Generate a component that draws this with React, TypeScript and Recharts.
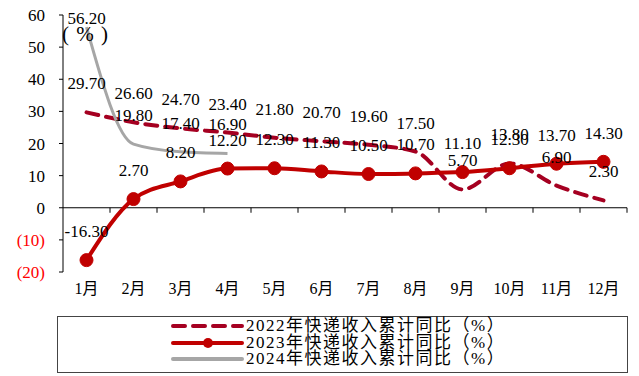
import { LineChart, Line, XAxis, YAxis, ReferenceLine, LabelList } from 'recharts';

const MONTHS = ['1月', '2月', '3月', '4月', '5月', '6月', '7月', '8月', '9月', '10月', '11月', '12月'];
const REV_2022 = [29.7, 26.6, 24.7, 23.4, 21.8, 20.7, 19.6, 17.5, 5.7, 13.8, 6.9, 2.3];
const REV_2023 = [-16.3, 2.7, 8.2, 12.2, 12.3, 11.3, 10.5, 10.7, 11.1, 12.3, 13.7, 14.3];
const REV_2024 = [56.2, 19.8, 17.4, 16.9];
const Y_TICKS = [-20, -10, 0, 10, 20, 30, 40, 50, 60];
const SERIES_NAMES = ['2022年快递收入累计同比（%）', '2023年快递收入累计同比（%）', '2024年快递收入累计同比（%）'];

const C2022 = '#A50021';
const C2023 = '#C00000';
const C2024 = '#A6A6A6';
const SERIF = "'Liberation Serif', 'Times New Roman', 'Noto Sans CJK SC', serif";

const data = MONTHS.map((month, i) => ({
    month,
    y2022: REV_2022[i],
    y2023: REV_2023[i],
    y2024: i < REV_2024.length ? REV_2024[i] : null,
}));

function ValueLabel(props: any) {
    const { value } = props;
    if (value == null) return null;
    const vb = props.viewBox || {};
    const x = (vb.x ?? props.x) + (vb.width || 0) / 2;
    const y = Math.max((vb.y ?? props.y) - 23, 24);
    return (
        <text x={x} y={y} textAnchor="middle" fontSize={17} fontFamily={SERIF} fill="#000">
            {Number(value).toFixed(2)}
        </text>
    );
}

// zero line with tick marks between categories
function ZeroAxis(props: any) {
    const { x1, x2, y1 } = props;
    const step = (x2 - x1) / MONTHS.length;
    return (
        <g>
            <line x1={x1} y1={y1} x2={x2} y2={y1} stroke="#000" strokeWidth={1} />
            {MONTHS.map((_, i) => (
                <line key={i} x1={x1 + step * (i + 1)} x2={x1 + step * (i + 1)} y1={y1} y2={y1 + 5} stroke="#000" />
            ))}
        </g>
    );
}

function YTick(props: any) {
    const { x, y, payload } = props;
    const v = payload.value;
    return (
        <text x={x} y={y} dy={6} textAnchor="end" fontSize={17} fontFamily={SERIF} fill={v < 0 ? '#FF0000' : '#000'}>
            {v < 0 ? `(${-v})` : v}
        </text>
    );
}

function XTick(props: any) {
    const { x, y, payload } = props;
    return (
        <text x={x} y={y} dy={14} textAnchor="middle" fontSize={16} fontFamily={SERIF} fill="#000">
            {payload.value}
        </text>
    );
}

function LegendBox() {
    const rows = [
        { name: SERIES_NAMES[0], color: C2022, dash: '12 8', width: 4, dot: false },
        { name: SERIES_NAMES[1], color: C2023, dash: undefined, width: 4, dot: true },
        { name: SERIES_NAMES[2], color: C2024, dash: undefined, width: 4, dot: false },
    ];
    return (
        <div
            style={{
                position: 'absolute',
                left: 57,
                top: 316,
                width: 571,
                height: 57,
                border: '1px solid #444',
                boxSizing: 'border-box',
                paddingTop: 1,
            }}
        >
            {rows.map((r) => (
                <div key={r.name} style={{ display: 'flex', alignItems: 'center', height: 16.5, marginLeft: 110 }}>
                    <svg width={78} height={14}>
                        <line x1={5} y1={7} x2={74} y2={7} stroke={r.color} strokeWidth={r.width} strokeDasharray={r.dash} strokeLinecap="round" />
                        {r.dot && <circle cx={40} cy={7} r={5} fill={r.color} />}
                    </svg>
                    <span
                        style={{
                            fontFamily: SERIF,
                            fontSize: 17,
                            lineHeight: '16px',
                            letterSpacing: 1.5,
                            color: '#000',
                            whiteSpace: 'nowrap',
                        }}
                    >
                        {r.name}
                    </span>
                </div>
            ))}
        </div>
    );
}

export default function App() {
    return (
        <div style={{ position: 'absolute', left: 0, top: 0, width: 639, height: 376, background: '#fff' }}>
            <LineChart width={639} height={376} data={data} margin={{ top: 15, right: 12, bottom: 74, left: 13 }}>
                <XAxis
                    dataKey="month"
                    scale="band"
                    axisLine={false}
                    tickLine={false}
                    tick={<XTick />}
                    interval={0}
                    height={30}
                />
                <YAxis
                    domain={[-20, 60]}
                    ticks={Y_TICKS}
                    width={50}
                    tickSize={4}
                    tickMargin={14}
                    axisLine={{ stroke: '#000' }}
                    tickLine={{ stroke: '#000' }}
                    tick={<YTick />}
                    allowDataOverflow
                />
                <ReferenceLine y={0} shape={ZeroAxis} />
                <Line
                    type="monotone"
                    dataKey="y2022"
                    name={SERIES_NAMES[0]}
                    stroke={C2022}
                    strokeWidth={4}
                    strokeDasharray="12 8"
                    strokeLinecap="round"
                    dot={false}
                    isAnimationActive={false}
                >
                    <LabelList dataKey="y2022" content={ValueLabel} />
                </Line>
                <Line
                    type="monotone"
                    dataKey="y2023"
                    name={SERIES_NAMES[1]}
                    stroke={C2023}
                    strokeWidth={4}
                    dot={{ r: 6.5, fill: C2023, stroke: C2023, strokeWidth: 1 }}
                    isAnimationActive={false}
                >
                    <LabelList dataKey="y2023" content={ValueLabel} />
                </Line>
                <Line
                    type="monotone"
                    dataKey="y2024"
                    name={SERIES_NAMES[2]}
                    stroke={C2024}
                    strokeWidth={3}
                    dot={false}
                    connectNulls={false}
                    isAnimationActive={false}
                >
                    <LabelList dataKey="y2024" content={ValueLabel} />
                </Line>
            </LineChart>
            <div
                style={{
                    position: 'absolute',
                    left: 62,
                    top: 22,
                    fontFamily: SERIF,
                    fontSize: 21,
                    letterSpacing: 1,
                    color: '#000',
                    whiteSpace: 'pre',
                }}
            >
                {'( % )'}
            </div>
            <LegendBox />
        </div>
    );
}
